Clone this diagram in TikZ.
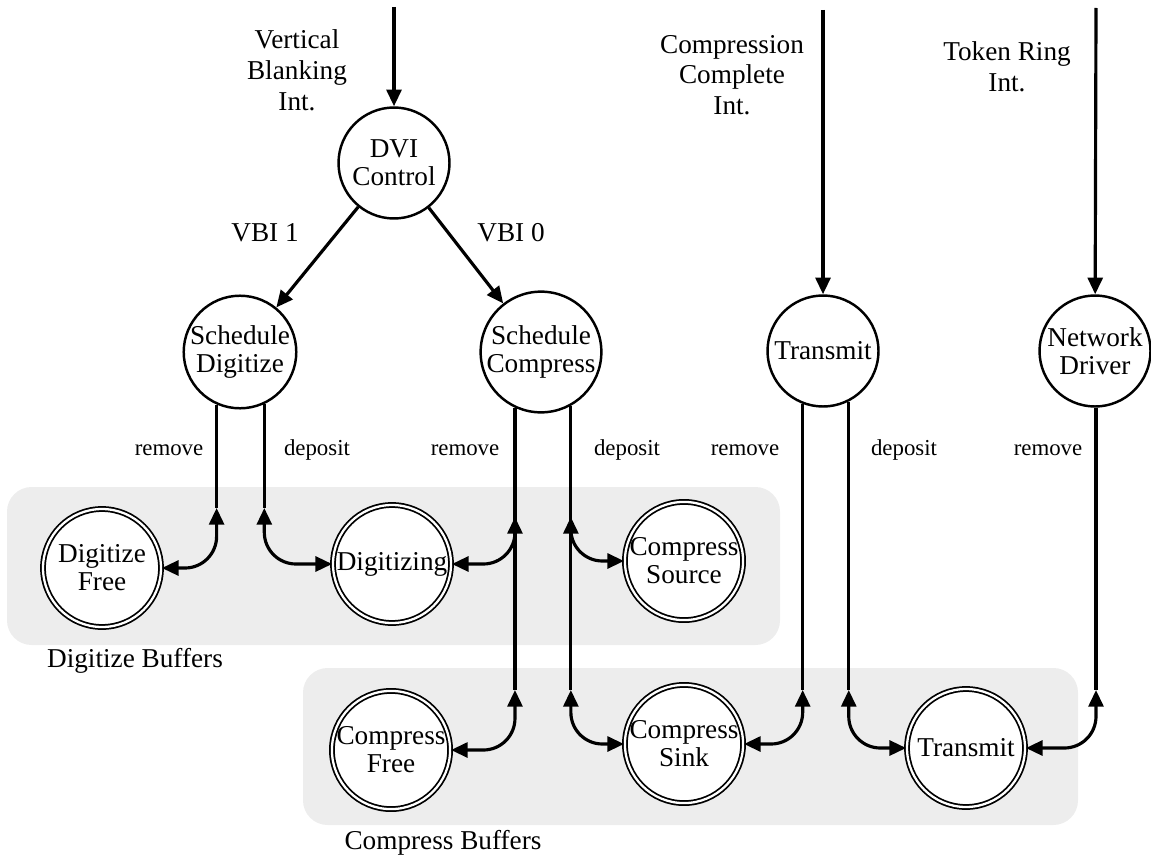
\documentclass[tikz,border=0pt]{standalone}
\usepackage{fontspec}
\setmainfont{Liberation Serif}
\usetikzlibrary{arrows.meta}
\def\tasksize{2.22cm}
\def\bufsize{2.36cm}

\begin{document}
\begin{tikzpicture}[x=0.02cm,y=-0.02cm,>={Triangle[length=9.5pt,width=8.5pt]},line width=1.8pt]
      \tikzstyle{task}=[circle,draw,line width=1.4pt,fill=white,minimum size=\tasksize,inner sep=0pt,align=center,font=\fontsize{15.5}{16}\selectfont]
      \tikzstyle{buffer}=[task,minimum size=\bufsize,double,line width=1pt,double distance=1.3pt]
      \tikzstyle{annot}=[align=center,font=\fontsize{15.5}{17.5}\selectfont]
      \tikzstyle{op}=[font=\fontsize{13}{15}\selectfont]
      \tikzstyle{pool}=[fill=black!7,rounded corners=14pt]
      \tikzstyle{link}=[<->,rounded corners=18pt]

      \useasboundingbox (0,0) rectangle (1151,865);

      % Buffer pools
      \fill[pool] (7,487) rectangle (780,645);
      \fill[pool] (303,668) rectangle (1078,825);
      \node[annot] (digbuf) at (135,661) {Digitize Buffers};
      \node[annot] (cmpbuf) at (443,843) {Compress Buffers};

      % Tasks
      \node[task] (dvi) at (394,163) {DVI\\Control};
      \node[task] (sdig) at (240,352) {Schedule\\Digitize};
      \node[task] (scmp) at (541,352) {Schedule\\Compress};
      \node[task] (xmit) at (823,351) {Transmit};
      \node[task] (ndrv) at (1095,351) {Network\\Driver};

      % Buffers
      \node[buffer] (dfree) at (102,568) {Digitize\\Free};
      \node[buffer] (dgtz) at (392,564) {Digitizing};
      \node[buffer] (csrc) at (684,561) {Compress\\Source};
      \node[buffer] (cfree) at (391,750) {Compress\\Free};
      \node[buffer] (csink) at (684,744) {Compress\\Sink};
      \node[buffer] (tbuf) at (966,748) {Transmit};

      % Interrupts
      \coordinate (vbiIn) at (394,7);
      \coordinate (cciIn) at (823,10);
      \coordinate (triIn) at (1096,8);
      \node[annot] (vbi) at (297,70) {Vertical\\Blanking\\Int.};
      \node[annot] (cci) at (732,75) {Compression\\Complete\\Int.};
      \node[annot] (tri) at (1007,67) {Token Ring\\Int.};
      \draw[->] (vbiIn) -- (dvi);
      \draw[->] (cciIn) -- (xmit);
      \draw[->] (triIn) -- (ndrv);

      \draw[->] (dvi) -- (sdig);
      \draw[->] (dvi) -- (scmp);
      \node[annot] (vbi1) at (265,233) {VBI 1};
      \node[annot] (vbi0) at (511,233) {VBI 0};

      % Queue lines
      \coordinate (sdR) at (sdig.-114 |- 0,508);
      \coordinate (sdD) at (sdig.-65 |- 0,508);
      \coordinate (scR1) at (scmp.-115 |- 0,517);
      \coordinate (scR2) at (scmp.-115 |- 0,690);
      \coordinate (scD1) at (scmp.-61 |- 0,517);
      \coordinate (scD2) at (scmp.-61 |- 0,690);
      \coordinate (txR) at (xmit.-111 |- 0,690);
      \coordinate (txD) at (xmit.-63 |- 0,690);
      \coordinate (ndR) at (ndrv.-89 |- 0,690);

      \draw (sdig.-114) -- (sdR);
      \draw (sdig.-65) -- (sdD);
      \draw (scmp.-115) -- (scR2);
      \draw (scmp.-61) -- (scD2);
      \draw (xmit.-111) -- (txR);
      \draw (xmit.-63) -- (txD);
      \draw (ndrv.-89) -- (ndR);

      \foreach \from/\to in {sdR/dfree,sdD/dgtz,scR1/dgtz,scD1/csrc,scR2/cfree,scD2/csink,txR/csink,txD/tbuf,ndR/tbuf}
          \draw[link] (\from) |- (\to);

      % Annotate the queues
      \foreach \x [count=\i] in {169,465,745,1048}
          \node[op] (rm-\i) at (\x,450) {remove};
      \foreach \x [count=\i] in {317,627,904}
          \node[op] (dp-\i) at (\x,450) {deposit};
\end{tikzpicture}
\end{document}
